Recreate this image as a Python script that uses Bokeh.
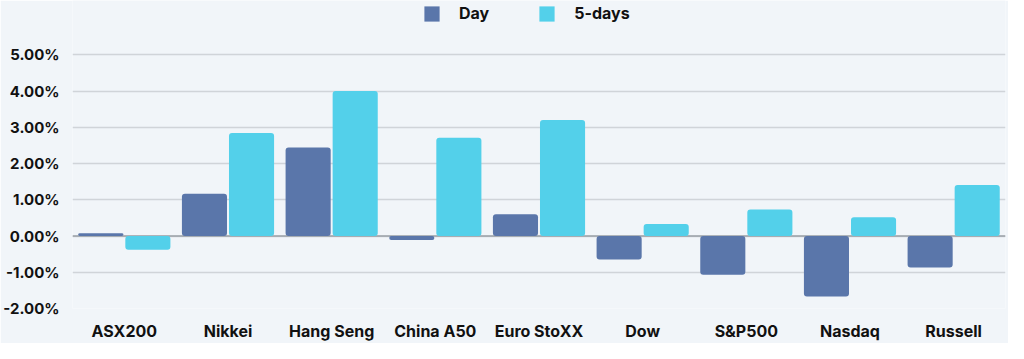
from bokeh.plotting import figure
from bokeh.models import ColumnDataSource, FixedTicker, PrintfTickFormatter, Legend, LegendItem, Span
from bokeh.transform import dodge
from bokeh.embed import file_html
from bokeh.resources import INLINE

categories = ["ASX200", "Nikkei", "Hang Seng", "China A50", "Euro StoXX", "Dow", "S&P500", "Nasdaq", "Russell"]
day = [0.08, 1.17, 2.44, -0.11, 0.60, -0.65, -1.07, -1.67, -0.87]
five_days = [-0.38, 2.84, 4.00, 2.71, 3.20, 0.33, 0.73, 0.52, 1.41]
y_ticks = [-2, -1, 0, 1, 2, 3, 4, 5]

DAY_C = "#5a76aa"
FIVE_C = "#53d0ea"
FONT = "Inter"
BG = "#f1f5f9"

src = ColumnDataSource(dict(cat=categories, day=day, five=five_days))

# y range extends above 5% so the legend can sit inside the frame (no grid there)
p = figure(x_range=categories, y_range=(-2, 6.5), width=1008, height=343,
           output_backend="svg", toolbar_location=None,
           min_border_left=64, min_border_right=3, min_border_top=0, min_border_bottom=26)
p.background_fill_color = BG
p.border_fill_color = BG
p.outline_line_color = None

zero = Span(location=0, dimension="width", line_color="#9aa0a6", line_width=1.5, level="underlay")
p.add_layout(zero)

r1 = p.vbar(x=dodge("cat", -0.227, range=p.x_range), top="day", width=0.435, source=src,
            fill_color=DAY_C, line_color=None, border_radius=3)
r2 = p.vbar(x=dodge("cat", 0.227, range=p.x_range), top="five", width=0.435, source=src,
            fill_color=FIVE_C, line_color=None, border_radius=3)

p.yaxis.ticker = FixedTicker(ticks=y_ticks)
p.yaxis.formatter = PrintfTickFormatter(format="%.2f%%")
for ax in (p.xaxis, p.yaxis):
    ax.axis_line_color = None
    ax.major_tick_line_color = None
    ax.minor_tick_line_color = None
    ax.major_label_text_font = FONT
    ax.major_label_text_font_style = "bold"
    ax.major_label_text_color = "#111111"
p.xaxis.major_label_text_font_size = "16px"
p.yaxis.major_label_text_font_size = "15px"
p.yaxis.major_label_standoff = 7
p.xaxis.major_label_standoff = 6

p.xgrid.grid_line_color = None
p.ygrid.grid_line_color = "#d0d4d9"
p.ygrid.grid_line_width = 1.5

legend = Legend(items=[LegendItem(label="Day", renderers=[r1]), LegendItem(label="5-days", renderers=[r2])],
                orientation="horizontal", location=(350, 285),
                background_fill_alpha=0, border_line_color=None,
                label_text_font=FONT, label_text_font_style="bold", label_text_font_size="16px",
                label_text_color="#111111", glyph_width=19, glyph_height=19,
                label_standoff=18, spacing=48, margin=0, padding=0)
p.add_layout(legend, "center")

open("out.html", "w").write(file_html(p, INLINE))
